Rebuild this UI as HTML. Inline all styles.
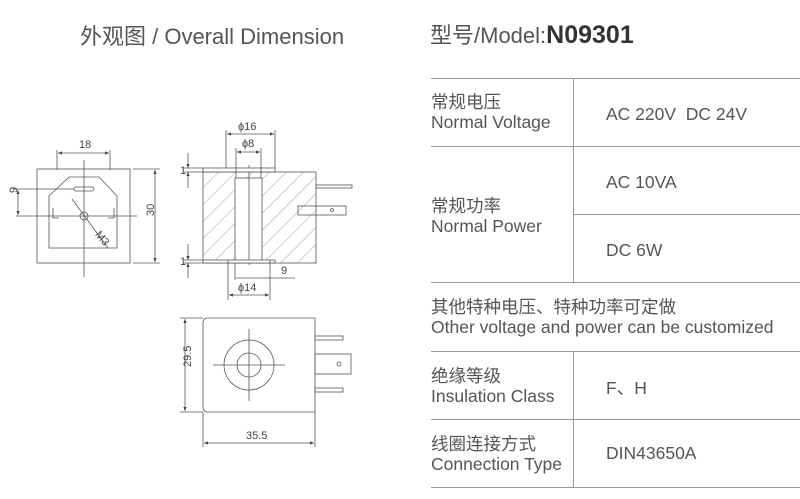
<!DOCTYPE html>
<html><head><meta charset="utf-8"><style>
body{margin:0;width:800px;height:499px;background:#fff;position:relative;overflow:hidden;font-family:"Liberation Sans","Noto Sans CJK SC",sans-serif;color:#444}
.t{position:absolute;white-space:nowrap}
.h{position:absolute;height:1px;background:#999}
.v{position:absolute;width:1px;background:#999}
.l{font-size:17.5px;line-height:20px;color:#555}
.val{font-size:17.5px;color:#555}
</style></head><body>
<div class="t" style="left:80px;top:19px;font-size:22px;color:#555">外观图 / Overall Dimension</div>
<div class="t" style="left:430px;top:18px;font-size:22px;color:#555">型号/Model:<b style="font-size:25px;color:#333">N09301</b></div>

<div class="h" style="left:431px;width:369px;top:78px"></div>
<div class="h" style="left:431px;width:369px;top:146px"></div>
<div class="h" style="left:573px;width:227px;top:214px"></div>
<div class="h" style="left:431px;width:369px;top:282px"></div>
<div class="h" style="left:431px;width:369px;top:351px"></div>
<div class="h" style="left:431px;width:369px;top:419px"></div>
<div class="h" style="left:431px;width:369px;top:487px"></div>
<div class="v" style="left:573px;top:78px;height:204px"></div>
<div class="v" style="left:573px;top:351px;height:136px"></div>

<div class="t l" style="left:431px;top:92px">常规电压<br>Normal Voltage</div>
<div class="t val" style="left:606px;top:104px">AC 220V&nbsp; DC 24V</div>
<div class="t l" style="left:431px;top:196px">常规功率<br>Normal Power</div>
<div class="t val" style="left:606px;top:172px">AC 10VA</div>
<div class="t val" style="left:606px;top:240px">DC 6W</div>
<div class="t l" style="left:431px;top:297px">其他特种电压、特种功率可定做<br>Other voltage and power can be customized</div>
<div class="t l" style="left:431px;top:366px">绝缘等级<br>Insulation Class</div>
<div class="t val" style="left:606px;top:375px">F、H</div>
<div class="t l" style="left:431px;top:434px">线圈连接方式<br>Connection Type</div>
<div class="t val" style="left:606px;top:443px">DIN43650A</div>

<svg width="420" height="499" style="position:absolute;left:0;top:0" font-family="Liberation Sans, sans-serif" font-size="11" fill="none" stroke="#555" stroke-width="0.8">
<defs>
<pattern id="hp" width="12" height="12" patternUnits="userSpaceOnUse" patternTransform="rotate(45)"><line x1="0" y1="0" x2="0" y2="12" stroke="#777" stroke-width="0.7"/></pattern>
<marker id="a" markerWidth="6" markerHeight="6" refX="5" refY="3" orient="auto-start-reverse"><path d="M0,1 L5,3 L0,5z" fill="#444" stroke="none"/></marker>
</defs>
<rect x="37" y="169" width="93" height="94"/>
<path d="M69,177 H99 L117,196 V248 H49 V196 Z"/>
<rect x="74" y="187" width="20" height="4" rx="2"/>
<path d="M53,208 v10 h6 M114,208 v10 h-6"/>
<circle cx="84" cy="216" r="4"/>
<line x1="84" y1="160" x2="84" y2="277"/>
<line x1="16" y1="216" x2="137" y2="216"/>
<line x1="72" y1="199" x2="108" y2="248"/>
<text x="94" y="240" fill="#444" stroke="none" transform="rotate(50 100 238)">M3</text>
<line x1="57" y1="150" x2="57" y2="170"/><line x1="110" y1="150" x2="110" y2="170"/>
<line x1="58" y1="153" x2="109" y2="153" marker-start="url(#a)" marker-end="url(#a)"/>
<text x="79" y="148" fill="#444" stroke="none">18</text>
<line x1="14" y1="189" x2="74" y2="189"/>
<line x1="18" y1="190" x2="18" y2="215" marker-start="url(#a)" marker-end="url(#a)"/>
<text x="13" y="197" fill="#444" stroke="none" transform="rotate(-90 13 193)">9</text>
<line x1="133" y1="169" x2="160" y2="169"/><line x1="133" y1="263" x2="160" y2="263"/>
<line x1="155" y1="170" x2="155" y2="262" marker-start="url(#a)" marker-end="url(#a)"/>
<text x="150" y="220" fill="#444" stroke="none" transform="rotate(-90 150 216)">30</text>
<rect x="203" y="172" width="113" height="91" fill="url(#hp)"/>
<rect x="235" y="178" width="27" height="85" fill="#fff"/>
<line x1="249" y1="165" x2="249" y2="265"/>
<rect x="203" y="168" width="72" height="4" fill="#fff"/>
<rect x="203" y="260" width="72" height="3" fill="#fff"/>
<rect x="316" y="185" width="36" height="3"/>
<rect x="298" y="206" width="48" height="9"/>
<circle cx="332" cy="210" r="1.5"/>
<line x1="226" y1="130" x2="226" y2="168"/><line x1="275" y1="130" x2="275" y2="168"/>
<line x1="227" y1="134" x2="274" y2="134" marker-start="url(#a)" marker-end="url(#a)"/>
<text x="238" y="130" fill="#444" stroke="none">ϕ16</text>
<line x1="236" y1="148" x2="236" y2="178"/><line x1="261" y1="148" x2="261" y2="178"/>
<line x1="237" y1="152" x2="260" y2="152" marker-start="url(#a)" marker-end="url(#a)"/>
<text x="242" y="147" fill="#444" stroke="none">ϕ8</text>
<line x1="184" y1="168" x2="203" y2="168"/><line x1="184" y1="172" x2="203" y2="172"/>
<line x1="188" y1="153" x2="188" y2="168" marker-end="url(#a)"/><line x1="188" y1="188" x2="188" y2="172" marker-end="url(#a)"/>
<text x="180" y="174" fill="#444" stroke="none">1</text>
<line x1="184" y1="260" x2="203" y2="260"/><line x1="184" y1="263" x2="203" y2="263"/>
<line x1="188" y1="244" x2="188" y2="260" marker-end="url(#a)"/><line x1="188" y1="278" x2="188" y2="263" marker-end="url(#a)"/>
<text x="180" y="265" fill="#444" stroke="none">1</text>
<line x1="228" y1="260" x2="228" y2="300"/><line x1="270" y1="260" x2="270" y2="300"/>
<line x1="229" y1="295" x2="269" y2="295" marker-start="url(#a)" marker-end="url(#a)"/>
<text x="238" y="291" fill="#444" stroke="none">ϕ14</text>
<line x1="235" y1="263" x2="235" y2="280"/>
<line x1="236" y1="278" x2="295" y2="278"/>
<text x="281" y="274" fill="#444" stroke="none">9</text>
<path d="M208,318 H315 V412 H208 Q203,412 203,407 V323 Q203,318 208,318Z"/>
<circle cx="249" cy="365" r="25"/><circle cx="249" cy="365" r="12"/>
<line x1="213" y1="365" x2="285" y2="365"/><line x1="249" y1="329" x2="249" y2="401"/>
<rect x="315" y="336" width="28" height="4"/><rect x="315" y="388" width="28" height="4"/>
<rect x="315" y="354" width="36" height="20"/><circle cx="339" cy="364" r="2"/>
<line x1="180" y1="318" x2="203" y2="318"/><line x1="180" y1="412" x2="203" y2="412"/>
<line x1="185" y1="319" x2="185" y2="411" marker-start="url(#a)" marker-end="url(#a)"/>
<text x="178" y="376" fill="#444" stroke="none" transform="rotate(-90 180 365)">29.5</text>
<line x1="203" y1="412" x2="203" y2="447"/><line x1="315" y1="412" x2="315" y2="447"/>
<line x1="204" y1="443" x2="314" y2="443" marker-start="url(#a)" marker-end="url(#a)"/>
<text x="246" y="439" fill="#444" stroke="none">35.5</text>
</svg>
</body></html>
